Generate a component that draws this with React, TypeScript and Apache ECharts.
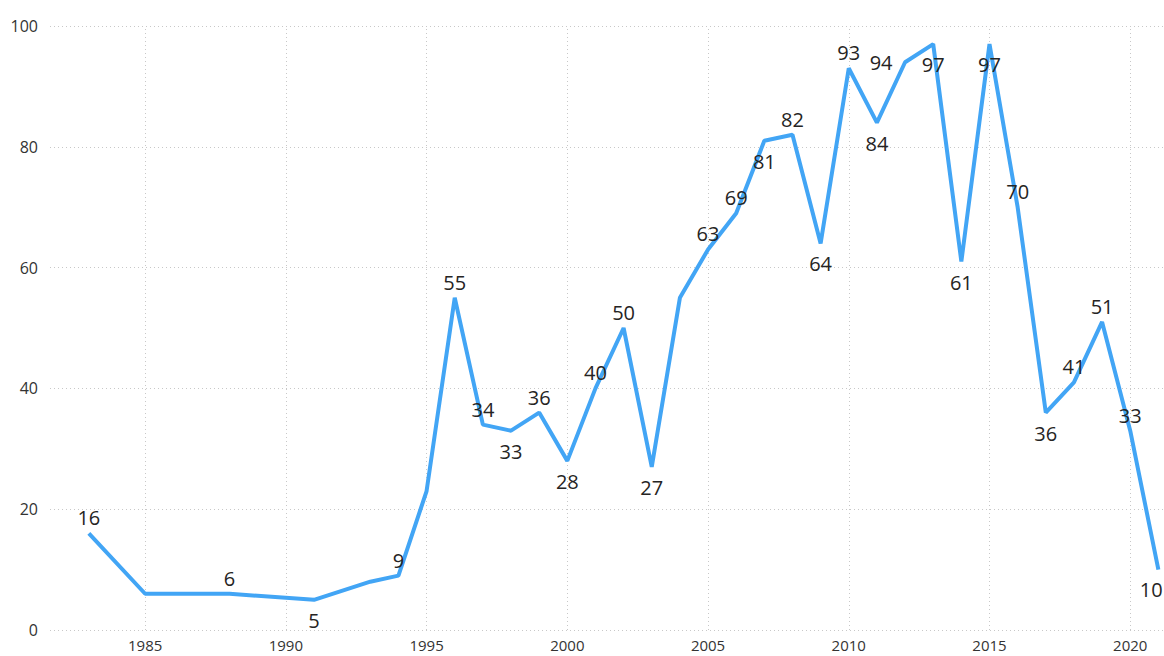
import React, { useEffect, useRef } from "react";
import * as echarts from "echarts";

const years = [1983, 1985, 1988, 1991, 1993, 1994, 1995, 1996, 1997, 1998, 1999, 2000, 2001, 2002, 2003, 2004, 2005, 2006, 2007, 2008, 2009, 2010, 2011, 2012, 2013, 2014, 2015, 2016, 2017, 2018, 2019, 2020, 2021];
const values = [16, 6, 6, 5, 8, 9, 23, 55, 34, 33, 36, 28, 40, 50, 27, 55, 63, 69, 81, 82, 64, 93, 84, 94, 97, 61, 97, 70, 36, 41, 51, 33, 10];
// label placement per point ("" = no label)
const labelPos = ["top", "", "top", "bottom", "", "top", "", "top", "top", "bottom", "top", "bottom", "top", "top", "bottom", "", "top", "top", "bottom", "top", "bottom", "top", "bottom", "left", "bottom", "bottom", "bottom", "top", "bottom", "top", "top", "top", "bottom"];
const xTicks = [1985, 1990, 1995, 2000, 2005, 2010, 2015, 2020];
const yTicks = [0, 20, 40, 60, 80, 100];

const FONT = "'Open Sans', 'Noto Sans', sans-serif";

export default function App() {
  const ref = useRef<HTMLDivElement>(null);
  useEffect(() => {
    if (!ref.current) return;
    const chart = echarts.init(ref.current, null, { renderer: "svg" });
    const last = years.length - 1;
    const dist: Record<string, number> = { top: 5, bottom: 10, left: 12 };
    const data = years.map((y, i) => {
      let label: any = { show: false };
      if (i === last) {
        label = { show: true, position: [-18, 10], align: "left", verticalAlign: "top" };
      } else if (labelPos[i]) {
        label = { show: true, position: labelPos[i], distance: dist[labelPos[i]] };
      }
      return { value: [y, values[i]], label };
    });
    chart.setOption({
      animation: false,
      backgroundColor: "#ffffff",
      grid: { left: 50, right: 0, top: 26, bottom: 26, containLabel: false },
      xAxis: {
        type: "value",
        min: 1981.62,
        max: 2021.2,
        axisLine: { show: false },
        axisTick: { show: false },
        splitLine: { show: false },
        axisLabel: {
          customValues: xTicks,
          formatter: (v: number) => String(v),
          color: "#333",
          fontSize: 15,
          fontFamily: FONT,
          margin: 7,
        },
      },
      yAxis: {
        type: "value",
        min: yTicks[0],
        max: yTicks[yTicks.length - 1],
        interval: 20,
        axisLine: { show: false },
        axisTick: { show: false },
        axisLabel: { color: "#333", fontSize: 16, fontFamily: FONT, margin: 12 },
        splitLine: { show: true, lineStyle: { color: "#c8c8c8", width: 1, type: [1, 3] } },
      },
      series: [
        {
          type: "line",
          data,
          symbol: "circle",
          symbolSize: 1,
          showSymbol: true,
          showAllSymbol: true,
          lineStyle: { color: "#42a5f5", width: 4 },
          itemStyle: { color: "rgba(0,0,0,0)", borderWidth: 0 },
          label: { color: "#252423", fontSize: 20, fontFamily: FONT },
          labelLayout: { hideOverlap: false },
          clip: false,
          markLine: {
            silent: true,
            symbol: "none",
            label: { show: false },
            lineStyle: { color: "#c8c8c8", width: 1, type: [1, 3] },
            data: xTicks.map((t) => ({ xAxis: t })),
            z: 0,
          },
        },
      ],
    });
    return () => chart.dispose();
  }, []);
  return (
    <div
      ref={ref}
      style={{ position: "absolute", left: 0, top: 0, width: 1164, height: 656 }}
    />
  );
}
